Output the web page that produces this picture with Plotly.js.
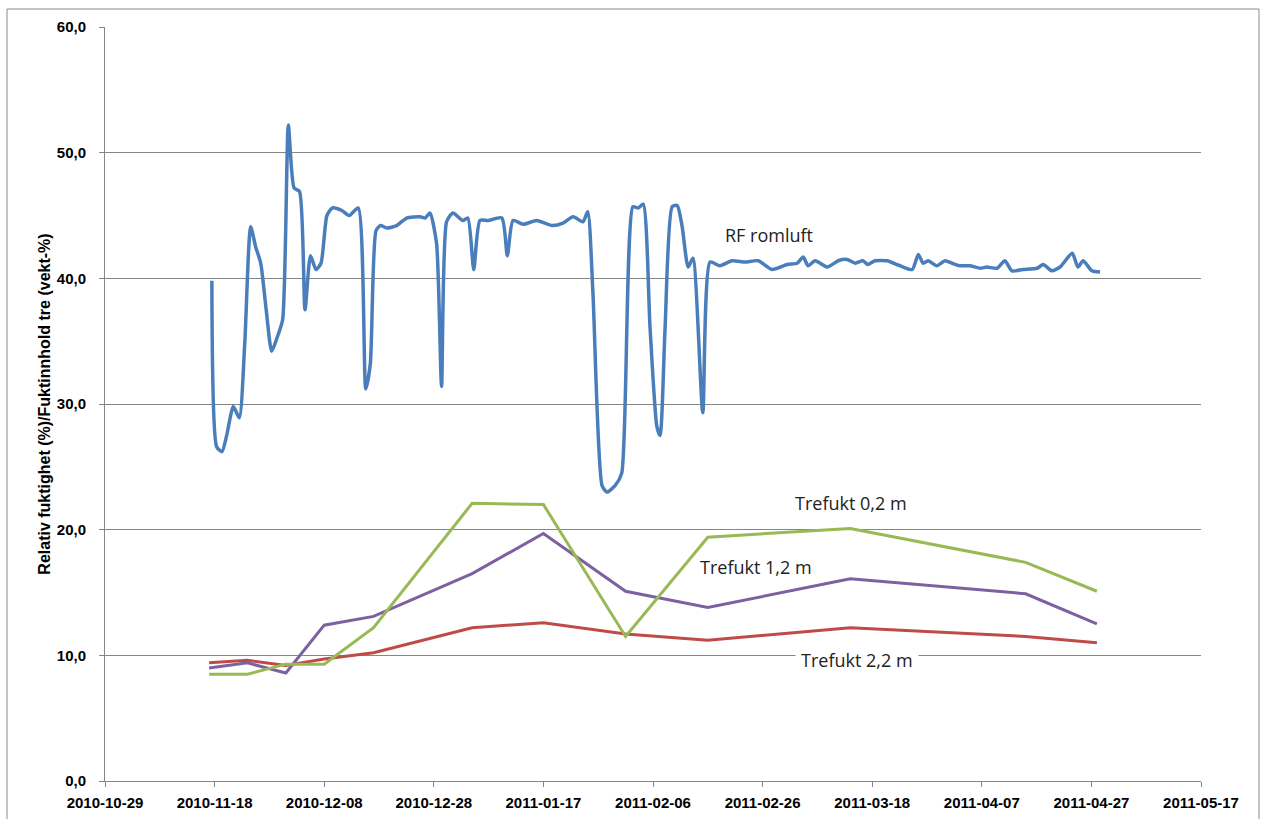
<!DOCTYPE html>
<html>
<head>
<meta charset="utf-8">
<script src="https://cdn.plot.ly/plotly-3.0.1.min.js"></script>
<style>
html,body{margin:0;padding:0;background:#fff;}
#chart{width:1267px;height:819px;}
</style>
</head>
<body>
<div id="chart"></div>
<script>
// RF romluft (room air relative humidity)
const rfDates = [
"2010-11-17 12:00","2010-11-18 09:00","2010-11-19 08:00","2010-11-20 05:00","2010-11-21 10:00","2010-11-22 12:00",
"2010-11-23 12:00","2010-11-24 14:00","2010-11-25 12:00","2010-11-26 10:00","2010-11-27 10:00","2010-11-28 10:00",
"2010-11-29 10:00","2010-11-30 10:00","2010-12-01 11:00","2010-12-02 12:00","2010-12-03 12:00","2010-12-04 12:00",
"2010-12-05 12:00","2010-12-06 12:00","2010-12-07 10:00","2010-12-08 12:00","2010-12-09 12:00","2010-12-11 05:00",
"2010-12-12 14:00","2010-12-14 05:00","2010-12-15 14:00","2010-12-16 10:00","2010-12-17 11:00","2010-12-18 07:00",
"2010-12-19 10:00","2010-12-21 05:00","2010-12-23 01:00","2010-12-25 12:00","2010-12-26 10:00","2010-12-27 07:00",
"2010-12-28 12:00","2010-12-29 10:00","2010-12-30 08:00","2010-12-31 12:00","2011-01-02 07:00","2011-01-03 05:00",
"2011-01-04 07:00","2011-01-05 10:00","2011-01-06 22:00","2011-01-09 10:00","2011-01-10 10:00","2011-01-11 11:00",
"2011-01-13 07:00","2011-01-15 19:00","2011-01-18 14:00","2011-01-20 14:00","2011-01-22 10:00","2011-01-24 05:00",
"2011-01-25 02:00","2011-01-26 01:00","2011-01-27 17:00","2011-01-28 14:00","2011-01-30 02:00","2011-01-31 07:00",
"2011-02-02 08:00","2011-02-03 07:00","2011-02-04 05:00","2011-02-05 11:00","2011-02-06 17:00","2011-02-07 07:00",
"2011-02-08 05:00","2011-02-09 12:00","2011-02-10 10:00","2011-02-11 07:00","2011-02-12 10:00","2011-02-13 07:00",
"2011-02-15 02:00","2011-02-16 10:00","2011-02-18 05:00","2011-02-20 10:00","2011-02-22 19:00","2011-02-25 05:00",
"2011-02-27 17:00","2011-03-02 12:00","2011-03-04 07:00","2011-03-05 10:00","2011-03-06 07:00","2011-03-07 14:00",
"2011-03-09 19:00","2011-03-11 19:00","2011-03-13 10:00","2011-03-14 22:00","2011-03-16 07:00","2011-03-17 05:00",
"2011-03-18 12:00","2011-03-20 17:00","2011-03-23 02:00","2011-03-25 07:00","2011-03-26 10:00","2011-03-27 07:00",
"2011-03-28 05:00","2011-03-29 19:00","2011-03-31 07:00","2011-04-01 14:00","2011-04-03 00:00","2011-04-04 19:00",
"2011-04-06 17:00","2011-04-07 22:00","2011-04-09 19:00","2011-04-11 05:00","2011-04-12 12:00","2011-04-14 12:00",
"2011-04-17 02:00","2011-04-18 05:00","2011-04-19 19:00","2011-04-21 07:00","2011-04-23 12:00","2011-04-24 13:00",
"2011-04-25 12:00","2011-04-27 02:00","2011-04-28 14:00"
];
const rfValues = [
39.8,26.6,26.2,27.5,29.8,28.9,
34.8,44.1,42.5,41.2,37.5,34.2,
35.3,36.7,52.2,47.2,46.9,37.5,
41.8,40.7,41.2,45.0,45.6,45.4,
45.0,45.6,31.2,33.2,43.8,44.2,
44.0,44.2,44.8,44.9,44.8,45.2,
42.8,31.4,44.5,45.2,44.6,44.8,
40.7,44.6,44.6,44.8,41.8,44.6,
44.3,44.6,44.2,44.4,44.9,44.5,
45.3,38.8,23.5,23.0,23.5,24.5,
45.7,45.6,45.9,36.1,28.2,27.5,
36.1,45.7,45.8,44.2,40.9,41.6,
29.3,41.3,41.0,41.4,41.3,41.4,
40.7,41.1,41.2,41.7,41.0,41.4,
40.9,41.4,41.5,41.2,41.4,41.1,
41.4,41.4,41.0,40.7,41.9,41.2,
41.4,41.0,41.4,41.2,41.0,41.0,
40.8,40.9,40.8,41.4,40.6,40.7,
40.8,41.1,40.6,40.9,42.0,40.9,
41.4,40.6,40.5
];

// Wood moisture measurements
const treDates = ["2010-11-17","2010-11-24","2010-12-01","2010-12-08","2010-12-17","2011-01-04",
                  "2011-01-17","2011-02-01","2011-02-16","2011-03-14","2011-04-15","2011-04-28"];
const tre02 = [8.5, 8.5, 9.3, 9.3, 12.2, 22.1, 22.0, 11.5, 19.4, 20.1, 17.4, 15.1];
const tre12 = [9.0, 9.4, 8.6, 12.4, 13.1, 16.5, 19.7, 15.1, 13.8, 16.1, 14.9, 12.5];
const tre22 = [9.4, 9.6, 9.2, 9.7, 10.2, 12.2, 12.6, 11.7, 11.2, 12.2, 11.5, 11.0];

const xTickStart = "2010-10-29";
const xRange = ["2010-10-29", "2011-05-17"];
const yTitle = "Relativ fuktighet (%)/Fuktinnhold tre (vekt-%)";

const traces = [
  {x: rfDates, y: rfValues, type: "scatter", mode: "lines", name: "RF romluft",
   line: {color: "#4A7EBB", width: 3.5, shape: "spline", smoothing: 0.6}},
  {x: treDates, y: tre22, type: "scatter", mode: "lines", name: "Trefukt 2,2 m",
   line: {color: "#BE4B48", width: 3}},
  {x: treDates, y: tre12, type: "scatter", mode: "lines", name: "Trefukt 1,2 m",
   line: {color: "#7D60A0", width: 3}},
  {x: treDates, y: tre02, type: "scatter", mode: "lines", name: "Trefukt 0,2 m",
   line: {color: "#98B954", width: 3}}
];

const PW = 1096, PH = 754, L = 105, T = 27;
function px(x){ return (x - L) / PW; }
function py(y){ return 1 - (y - T) / PH; }

const annFont = {family: "Open Sans, Liberation Sans, sans-serif", size: 18, color: "#222"};
const tickFont = {family: "Liberation Sans Narrow, Liberation Sans, sans-serif", size: 15, color: "#000", weight: "bold"};

const layout = {
  width: 1267, height: 819,
  margin: {l: L, r: 1267 - 1201, t: T, b: 819 - 781, pad: 0},
  paper_bgcolor: "#fff", plot_bgcolor: "#fff",
  showlegend: false,
  separators: ", ",
  font: {family: "Liberation Sans Narrow, Liberation Sans, sans-serif", size: 12, color: "#111"},
  xaxis: {
    type: "date", range: xRange, tick0: xTickStart, dtick: 20 * 86400000,
    tickformat: "%Y-%m-%d", showgrid: false, zeroline: false,
    showline: true, linecolor: "#868686", linewidth: 1,
    ticks: "outside", ticklen: 5, tickcolor: "#868686",
    ticklabelstandoff: 3,
    tickfont: tickFont
  },
  yaxis: {
    range: [0, 60], dtick: 10, tickformat: ".1f",
    showgrid: true, gridcolor: "#868686", gridwidth: 1, zeroline: false,
    showline: true, linecolor: "#868686", linewidth: 1,
    ticks: "outside", ticklen: 5, tickcolor: "#868686",
    ticklabelstandoff: 10,
    tickfont: tickFont,
    title: {text: yTitle, standoff: 2,
            font: {family: "Liberation Sans Narrow, Liberation Sans, sans-serif", size: 16, color: "#000", weight: "bold"}}
  },
  annotations: [
    {xref: "paper", yref: "paper", x: px(723), y: py(235), xanchor: "left", yanchor: "middle",
     text: "RF romluft", showarrow: false, font: annFont},
    {xref: "paper", yref: "paper", x: px(793), y: py(503), xanchor: "left", yanchor: "middle",
     text: "Trefukt 0,2 m", showarrow: false, font: annFont},
    {xref: "paper", yref: "paper", x: px(698), y: py(567), xanchor: "left", yanchor: "middle",
     text: "Trefukt 1,2 m", showarrow: false, font: annFont},
    {xref: "paper", yref: "paper", x: px(795), y: py(660), xanchor: "left", yanchor: "middle",
     text: "Trefukt 2,2 m", showarrow: false, font: annFont, bgcolor: "#fff", borderpad: 5}
  ],
  shapes: [
    {type: "rect", xref: "paper", yref: "paper", x0: px(7), x1: px(1259), y0: py(830), y1: py(9),
     line: {color: "#8a8a8a", width: 1}, fillcolor: "rgba(0,0,0,0)", layer: "below"}
  ]
};

Plotly.newPlot("chart", traces, layout, {displayModeBar: false, staticPlot: true});
</script>
</body>
</html>
